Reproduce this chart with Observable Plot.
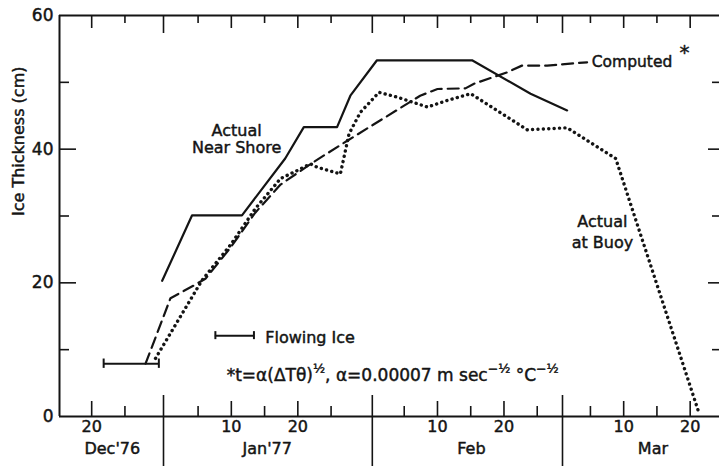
<!DOCTYPE html>
<html>
<head>
<meta charset="utf-8">
<script src="https://cdn.jsdelivr.net/npm/d3@7"></script>
<script src="https://cdn.jsdelivr.net/npm/@observablehq/plot@0.6"></script>
<style>
  html, body { margin: 0; padding: 0; background: white; }
  #chart { width: 719px; height: 466px; }
</style>
</head>
<body>
<div id="chart"></div>
<script>
// x values: days counted from 1 Jan 1977 (Dec 20 1976 = -12)
const nearShoreDay = [-1.4, 3.1, 10.6, 17.1, 19.9, 24.9, 26.9, 30.9, 45.2, 54.0, 59.5];
const nearShoreCm  = [20.3, 30.1, 30.1, 38.6, 43.3, 43.3, 48.0, 53.3, 53.3, 48.3, 45.8];

const computedDay = [-3.9, -0.15, 3.35, 5.1, 8.9, 12.6, 16.4, 21.4, 26.5, 37.4, 40.0, 44.2, 45.5, 50.5, 52.7, 56.5, 62.5];
const computedCm  = [7.9, 17.7, 19.6, 20.6, 25.3, 30.5, 34.7, 38.1, 41.3, 48.0, 49.0, 49.1, 49.8, 51.5, 52.5, 52.5, 53.0];

const buoyDay = [-2.4, 4.6, 8.9, 12.6, 16.4, 18.9, 20.9, 21.9, 25.4, 26.7, 28.4, 31.2, 33.9, 38.5, 41.5, 45.0, 53.5, 59.5, 66.8, 79.3];
const buoyCm  = [8.7, 20.4, 25.7, 31.1, 35.6, 36.8, 37.8, 37.3, 36.3, 42.3, 45.5, 48.5, 47.8, 46.3, 47.3, 48.3, 42.9, 43.2, 38.6, 0.6];

const flowingIceStart = -10.2, flowingIceEnd = -1.9, flowingIceCm = 7.9;
const legendBarStart = 6.6, legendBarEnd = 12.4, legendBarCm = 12.1;

const majorTickDays   = [-12, 9, 19, 40, 50, 68, 78];
const majorTickLabels = ["20", "10", "20", "10", "20", "10", "20"];
const minorTickDays   = [-7, 4, 14, 24, 35, 45, 55, 63, 73];
const monthStartDays  = [-1.2, 30.2, 58.8];
const monthLabels     = ["Dec'76", "Jan'77", "Feb", "Mar"];
const monthLabelDays  = [-8.9, 14.4, 45.1, 72.4];

const yLabelValues = [0, 20, 40, 60];
const yMajorTicks  = [20, 40];
const yMinorTicks  = [10, 30, 50];

const xDomain = [-16.84, 82.41];
const INK = "#141414";
const FONT = "DejaVu Sans";
const FORMULA = "*t=α(ΔTθ)½, α=0.00007 m sec−½ °C−½";

const toRows = (xs, ys) => xs.map((d, i) => ({day: d, cm: ys[i]}));
const nearShore = toRows(nearShoreDay, nearShoreCm);
const computed = toRows(computedDay, computedCm);
const buoy = toRows(buoyDay, buoyCm);

// slightly heavier lettering, like the original stencil text
const ink = {fill: INK, stroke: INK, strokeWidth: 0.45, paintOrder: "fill"};

const chart = Plot.plot({
  width: 719,
  height: 466,
  marginLeft: 59,
  marginRight: 0,
  marginTop: 15,
  marginBottom: 50,
  x: {type: "linear", domain: xDomain, axis: null},
  y: {domain: [0, 60], axis: null},
  style: {fontFamily: FONT, background: "white", color: INK, overflow: "visible"},
  marks: [
    // frame: left, bottom, top
    Plot.ruleX([xDomain[0]], {y1: 0, y2: 60, stroke: INK, strokeWidth: 2}),
    Plot.ruleY([0, 60], {stroke: INK, strokeWidth: 2}),
    // bottom ticks (inward)
    Plot.tickX(majorTickDays, {x: d => d, insetTop: 386, stroke: INK, strokeWidth: 1.6}),
    Plot.tickX(minorTickDays, {x: d => d, insetTop: 391, stroke: INK, strokeWidth: 1.6}),
    // top ticks (inward)
    Plot.tickX(majorTickDays, {x: d => d, insetBottom: 388, stroke: INK, strokeWidth: 1.6}),
    Plot.tickX(minorTickDays, {x: d => d, insetBottom: 393, stroke: INK, strokeWidth: 1.6}),
    Plot.tickX(monthStartDays, {x: d => d, insetBottom: 383, stroke: INK, strokeWidth: 1.6}),
    // month separators through the axis
    Plot.tickX(monthStartDays, {x: d => d, insetTop: 380, insetBottom: -50, stroke: INK, strokeWidth: 1.6}),
    // left ticks
    Plot.tickY(yMajorTicks, {y: d => d, insetRight: 643, stroke: INK, strokeWidth: 1.6}),
    Plot.tickY(yMinorTicks, {y: d => d, insetRight: 650, stroke: INK, strokeWidth: 1.6}),
    // right ticks
    Plot.tickY(yMajorTicks, {y: d => d, insetLeft: 649, stroke: INK, strokeWidth: 1.6}),
    Plot.tickY(yMinorTicks, {y: d => d, insetLeft: 653, stroke: INK, strokeWidth: 1.6}),
    // tick labels
    Plot.text(yLabelValues, {y: d => d, text: d => String(d), frameAnchor: "left", textAnchor: "end", dx: -6, fontSize: 17, ...ink}),
    Plot.text(majorTickDays, {x: d => d, text: (d, i) => majorTickLabels[i], frameAnchor: "bottom", dy: 15, fontSize: 16, ...ink}),
    Plot.text(monthLabelDays, {x: d => d, text: (d, i) => monthLabels[i], frameAnchor: "bottom", dy: 37.5, fontSize: 16, ...ink}),
    // y axis title
    Plot.text(["Ice Thickness (cm)"], {y: 30, frameAnchor: "left", dx: -41, rotate: -90, fontSize: 16, ...ink}),
    // flowing ice bar
    Plot.ruleY([flowingIceCm], {x1: flowingIceStart, x2: flowingIceEnd, stroke: INK, strokeWidth: 2}),
    Plot.ruleX([flowingIceStart, flowingIceEnd], {y1: flowingIceCm - 0.7, y2: flowingIceCm + 0.7, stroke: INK, strokeWidth: 2}),
    // series
    Plot.line(nearShore, {x: "day", y: "cm", stroke: INK, strokeWidth: 2.2}),
    Plot.line(computed, {x: "day", y: "cm", stroke: INK, strokeWidth: 2.2, strokeDasharray: "11,6"}),
    Plot.line(buoy, {x: "day", y: "cm", stroke: INK, strokeWidth: 3.4, strokeDasharray: "0.1,5.3", strokeLinecap: "round"}),
    // legend for flowing ice
    Plot.ruleY([legendBarCm], {x1: legendBarStart, x2: legendBarEnd, stroke: INK, strokeWidth: 2}),
    Plot.ruleX([legendBarStart, legendBarEnd], {y1: legendBarCm - 0.6, y2: legendBarCm + 0.6, stroke: INK, strokeWidth: 2}),
    Plot.text(["Flowing Ice"], {x: 14.1, y: 11.8, textAnchor: "start", fontSize: 16, ...ink}),
    Plot.text([FORMULA], {x: 8.3, y: 6.2, textAnchor: "start", fontSize: 17, ...ink}),
    // annotations
    Plot.text(["Actual\nNear Shore"], {x: 9.8, y: 43.9, lineAnchor: "top", lineHeight: 1.1, fontSize: 16, ...ink}),
    Plot.text(["Computed"], {x: 63.2, y: 53.1, textAnchor: "start", fontSize: 15.5, ...ink}),
    Plot.text(["*"], {x: 76.4, y: 54.4, textAnchor: "start", fontSize: 20, ...ink}),
    Plot.text(["Actual\nat Buoy"], {x: 64.8, y: 30.6, lineAnchor: "top", lineHeight: 1.3, fontSize: 16, ...ink})
  ]
});

// turn the formula into real text with superscripts
d3.select(chart).selectAll("text").filter(function() { return this.textContent === FORMULA; })
  .each(function() {
    const t = d3.select(this);
    t.text(null);
    const parts = [
      ["*t=α(ΔTθ)", 0, 17],
      ["½", -8, 12.5],
      [", α=0.00007 m sec", 8, 17],
      ["−½", -8, 12.5],
      [" °C", 8, 17],
      ["−½", -8, 12.5]
    ];
    parts.forEach(([s, dy, fs]) => t.append("tspan").attr("dy", dy).attr("font-size", fs).text(s));
  });

document.getElementById("chart").appendChild(chart);
</script>
</body>
</html>
